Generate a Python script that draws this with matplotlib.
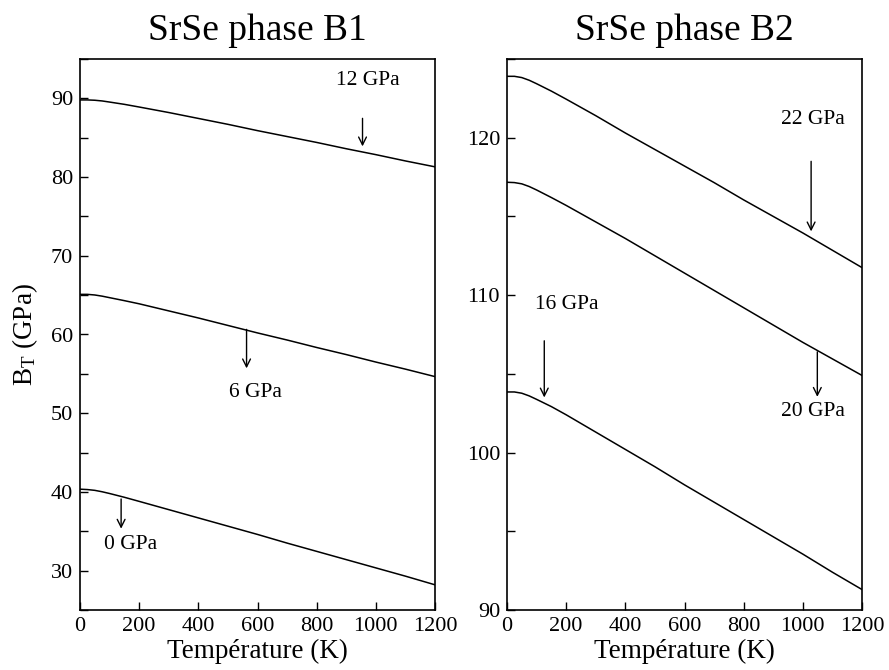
import matplotlib
matplotlib.use("Agg")
import matplotlib.pyplot as plt
from matplotlib.ticker import MultipleLocator

plt.rcParams['font.family'] = ['Liberation Serif', 'DejaVu Serif']
plt.rcParams['mathtext.fontset'] = 'custom'
plt.rcParams['mathtext.rm'] = 'Liberation Serif'
plt.rcParams['mathtext.it'] = 'Liberation Serif:italic'

# temperature grid (K)
T = [0, 25, 50, 75, 100, 150, 200, 300, 400, 500, 600, 700, 800, 900, 1000, 1100, 1200]

# phase B1 bulk modulus (GPa)
b1_0gpa = [40.35, 40.3, 40.2, 40.02, 39.8, 39.32, 38.8, 37.75, 36.7, 35.65, 34.6, 33.5, 32.45, 31.4, 30.35, 29.3, 28.2]
b1_6gpa = [65.1, 65.1, 65.02, 64.87, 64.68, 64.3, 63.9, 63.0, 62.1, 61.15, 60.2, 59.3, 58.35, 57.45, 56.5, 55.6, 54.65]
b1_12gpa = [89.8, 89.8, 89.76, 89.67, 89.53, 89.24, 88.9, 88.2, 87.45, 86.7, 85.9, 85.15, 84.4, 83.6, 82.85, 82.05, 81.3]

# phase B2 bulk modulus (GPa)
b2_16gpa = [103.85, 103.85, 103.77, 103.6, 103.38, 102.92, 102.4, 101.3, 100.2, 99.1, 97.95, 96.85, 95.75, 94.65, 93.55, 92.4, 91.3]
b2_20gpa = [117.17, 117.15, 117.07, 116.9, 116.68, 116.2, 115.7, 114.65, 113.6, 112.5, 111.4, 110.3, 109.2, 108.1, 107.0, 105.95, 104.9]
b2_22gpa = [123.9, 123.9, 123.82, 123.65, 123.43, 122.96, 122.45, 121.4, 120.3, 119.25, 118.2, 117.15, 116.05, 115.0, 113.95, 112.85, 111.75]

fig = plt.figure(figsize=(8.89, 6.70), dpi=100)
ax1 = fig.add_axes([80/889, 60/670, 355/889, 551/670])
ax2 = fig.add_axes([507/889, 60/670, 355/889, 551/670])

for y in (b1_0gpa, b1_6gpa, b1_12gpa):
    ax1.plot(T, y, color='black', lw=1.1)
for y in (b2_16gpa, b2_20gpa, b2_22gpa):
    ax2.plot(T, y, color='black', lw=1.1)

ax1.set_ylim(25, 95)
ax2.set_ylim(90, 125)
ax1.yaxis.set_major_locator(MultipleLocator(10))
ax2.yaxis.set_major_locator(MultipleLocator(10))

for ax, title in ((ax1, 'SrSe phase B1'), (ax2, 'SrSe phase B2')):
    ax.set_xlim(0, 1200)
    ax.xaxis.set_major_locator(MultipleLocator(200))
    ax.yaxis.set_minor_locator(MultipleLocator(5))
    ax.tick_params(which='both', direction='in', length=6, width=1.0,
                   top=False, right=False, labelsize=16, pad=5)
    for s in ax.spines.values():
        s.set_linewidth(1.2)
    ax.set_xlabel('Température (K)', fontsize=19.5, labelpad=2)
    ax.set_title(title, fontsize=27, pad=14)

ax1.set_ylabel(r'B$_{\rm T}$ (GPa)', fontsize=19.5, labelpad=8)

arrow = dict(arrowstyle='->', color='black', lw=1.0, shrinkA=0, shrinkB=0,
             mutation_scale=14)

# B1 labels
ax1.annotate('', xy=(955, 83.9), xytext=(955, 87.46), arrowprops=arrow)
ax1.text(974, 92.24, '12 GPa', ha='center', va='center', fontsize=15.5)
ax1.annotate('', xy=(563, 55.7), xytext=(563, 60.65), arrowprops=arrow)
ax1.text(594, 52.6, '6 GPa', ha='center', va='center', fontsize=15.5)
ax1.annotate('', xy=(139, 35.33), xytext=(139, 39.1), arrowprops=arrow)
ax1.text(172, 33.3, '0 GPa', ha='center', va='center', fontsize=15.5)

# B2 labels
ax2.annotate('', xy=(1028, 114.05), xytext=(1028, 118.5), arrowprops=arrow)
ax2.text(1035, 121.17, '22 GPa', ha='center', va='center', fontsize=15.5)
ax2.annotate('', xy=(1049, 103.54), xytext=(1049, 106.4), arrowprops=arrow)
ax2.text(1035, 102.6, '20 GPa', ha='center', va='center', fontsize=15.5)
ax2.annotate('', xy=(126, 103.5), xytext=(126, 107.1), arrowprops=arrow)
ax2.text(202, 109.4, '16 GPa', ha='center', va='center', fontsize=15.5)

fig.savefig('out.png', dpi=100)
